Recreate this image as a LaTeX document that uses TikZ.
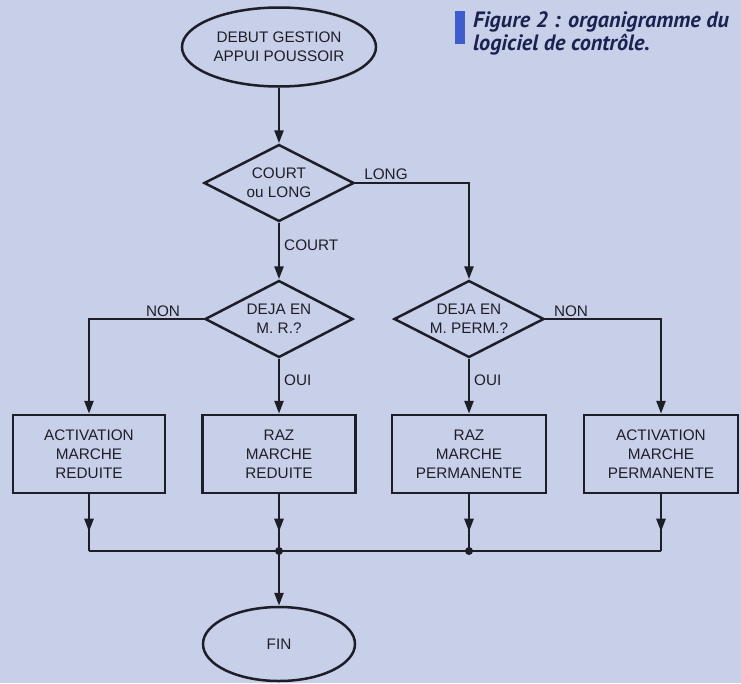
\documentclass[tikz,border=0pt]{standalone}
\usepackage{fontspec}
\setmainfont{Liberation Sans}
\newfontfamily\capfont{PT Sans}
\usetikzlibrary{shapes.geometric,arrows.meta,decorations.markings}
\definecolor{bgcol}{RGB}{200,207,233}
\definecolor{inkcol}{RGB}{30,30,40}
\definecolor{capblue}{RGB}{62,92,205}
\definecolor{capink}{RGB}{28,34,80}
\tikzset{
  every node/.style={text=inkcol, font=\fontsize{15.3}{19}\selectfont},
  conn/.style={draw=inkcol, line width=2.5pt},
  arr/.style={conn, -{Triangle[length=13pt,width=9pt]}},
  midarr/.style={conn, postaction={decorate}, decoration={markings,
      mark=at position 0.66 with {\arrow{Triangle[length=13pt,width=9pt]}}}},
  startend/.style={ellipse, draw=inkcol, line width=2.5pt, inner sep=0pt, align=center},
  decision/.style={diamond, aspect=2, draw=inkcol, line width=2.5pt, inner sep=0pt,
      minimum width=150pt, minimum height=77pt, align=center},
  action/.style={rectangle, draw=inkcol, line width=2.5pt, minimum width=153pt,
      minimum height=78pt, align=center, inner sep=0pt},
  lbl/.style={inner sep=1pt},
  captext/.style={anchor=base west, inner sep=0pt, text=capink,
      font=\capfont\bfseries\itshape\fontsize{22.2}{24}\selectfont}
}
\begin{document}
\begin{tikzpicture}[x=1pt,y=-1pt]
\fill[bgcol] (0,0) rectangle (741,683);
\useasboundingbox (0,0) rectangle (741,683);

% caption
\fill[capblue] (455,11) rectangle (465,44);
\node[captext] (cap1) at (473,27) {Figure 2 : organigramme du};
\node[captext] (cap2) at (473,50) {logiciel de contrôle.};

% nodes
\node[startend, minimum width=194pt, minimum height=79pt] (start) at (279,47) {DEBUT GESTION\\APPUI POUSSOIR};
\node[decision] (d1) at (279,183) {COURT\\ou LONG};
\node[decision, minimum width=148pt] (d2) at (279,319) {DEJA EN\\M. R.?};
\node[decision] (d3) at (469,319) {DEJA EN\\M. PERM.?};
\node[action, minimum width=152pt] (b1) at (89,454) {ACTIVATION\\MARCHE\\REDUITE};
\node[action] (b2) at (279,454) {RAZ\\MARCHE\\REDUITE};
\node[action, minimum width=154pt] (b3) at (469,454) {RAZ\\MARCHE\\PERMANENTE};
\node[action, minimum width=154pt] (b4) at (661,454) {ACTIVATION\\MARCHE\\PERMANENTE};
\node[startend, minimum width=152pt, minimum height=74pt] (fin) at (279,644) {FIN};

% connectors
\draw[arr] (start.south) -- (d1.north);
\draw[arr] (d1.east) -| (d3.north);
\node[lbl, anchor=south] (llong) at (386,181) {LONG};
\draw[arr] (d1.south) -- (d2.north);
\node[lbl, anchor=west] (lcourt) at (283,245) {COURT};
\draw[arr] (d2.west) -| (b1.north);
\node[lbl, anchor=south] (lnon1) at (163,318) {NON};
\draw[arr] (d2.south) -- (b2.north);
\node[lbl, anchor=west] (loui1) at (283,380) {OUI};
\draw[arr] (d3.south) -- (b3.north);
\node[lbl, anchor=west] (loui2) at (473,380) {OUI};
\draw[arr] (d3.east) -| (b4.north);
\node[lbl, anchor=south] (lnon2) at (571,318) {NON};

% merging bus
\coordinate (busy) at (0,551);
\coordinate (j1) at (279,551);
\coordinate (j2) at (469,551);
\draw[midarr] (b1.south) -- (b1.south |- busy);
\draw[midarr] (b2.south) -- (b2.south |- busy);
\draw[midarr] (b3.south) -- (b3.south |- busy);
\draw[midarr] (b4.south) -- (b4.south |- busy);
\draw[conn] (b1.south |- busy) -- (b4.south |- busy);
\fill[inkcol] (j1) circle (4);
\fill[inkcol] (j2) circle (4);
\draw[arr] (j1) -- (fin.north);
\end{tikzpicture}
\end{document}
